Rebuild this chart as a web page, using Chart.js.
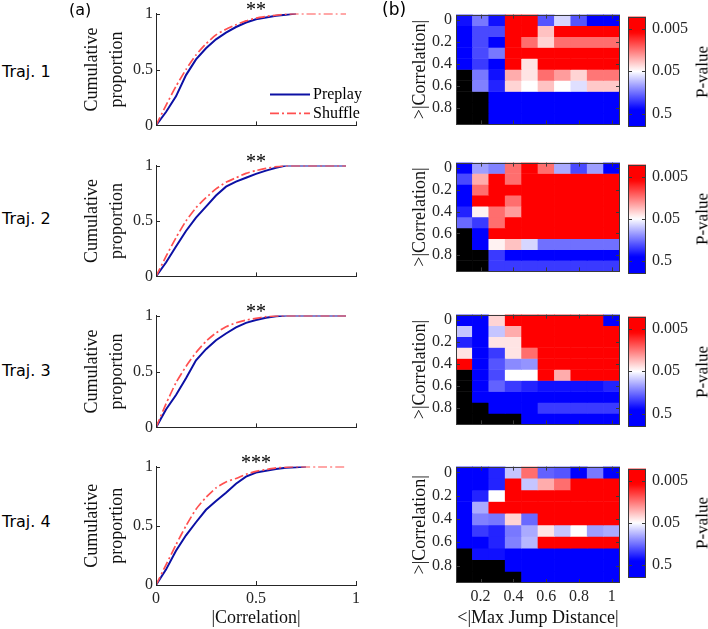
<!DOCTYPE html>
<html>
<head>
<meta charset="utf-8">
<script src="https://cdn.jsdelivr.net/npm/chart.js@4.4.1/dist/chart.umd.min.js"></script>
<style>
  body { margin:0; width:708px; height:629px; background:#fff; position:relative; overflow:hidden; }
  canvas { position:absolute; }
  .txt { position:absolute; white-space:nowrap; color:#000; line-height:1; }
  .sans { font-family:"DejaVu Sans", sans-serif; }
  .serif { font-family:"Liberation Serif", serif; }
</style>
</head>
<body>
<script>
// ---- donnees ----
const trajNames = ['Traj. 1', 'Traj. 2', 'Traj. 3', 'Traj. 4'];
const stars = ['**', '**', '**', '***'];

// |Correlation| (axe x des courbes cumulees)
const corrX = [0,0.05,0.1,0.15,0.2,0.25,0.3,0.35,0.4,0.45,0.5,0.55,0.6,0.65,0.7,0.75,0.8,0.85,0.9,0.95];

const preplay1 = [0,0.12,0.26,0.45,0.59,0.69,0.77,0.83,0.88,0.92,0.95,0.965,0.98,0.99,1,null,null,null,null,null];
const shuffle1 = [0,0.18,0.35,0.50,0.63,0.73,0.81,0.86,0.90,0.935,0.96,0.975,0.985,0.995,1,1,1,1,1,1];
const preplay2 = [0,0.125,0.27,0.41,0.53,0.63,0.73,0.81,0.855,0.89,0.925,0.955,0.98,1,1,1,1,1,1,1];
const shuffle2 = [0,0.18,0.35,0.50,0.62,0.71,0.79,0.85,0.89,0.93,0.955,0.975,0.99,1,1,1,1,1,1,1];
const preplay3 = [0,0.16,0.29,0.44,0.60,0.70,0.78,0.84,0.895,0.935,0.96,0.98,0.995,1,1,1,1,1,1,1];
const shuffle3 = [0,0.21,0.40,0.545,0.67,0.77,0.845,0.90,0.935,0.96,0.975,0.99,0.997,1,1,1,1,1,1,1];
const preplay4 = [0,0.13,0.29,0.42,0.53,0.635,0.71,0.78,0.855,0.915,0.95,0.965,0.98,0.99,0.995,1,null,null,null,null];
const shuffle4 = [0,0.17,0.34,0.50,0.64,0.74,0.82,0.87,0.90,0.935,0.96,0.975,0.99,0.995,1,1,1,1,1,1];

const cdfTicks = [0, 0.5, 1];

// heatmaps : lignes = >|Correlation|, colonnes = <|Max Jump Distance|
const corrLevels = [0,0.1,0.2,0.3,0.4,0.5,0.6,0.7,0.8,0.9];
const jumpLevels = [0.1,0.2,0.3,0.4,0.5,0.6,0.7,0.8,0.9,1];
const corrTicks = [0,0.2,0.4,0.6,0.8];
const cbTicks = [0.005, 0.05, 0.5];
const pMin = 0.0026, pMax = 1;

const R = 0.001, N = null;  // R : tres significatif, N : pas de donnees
const pval1 = [
  [0.35,0.15,0.35,R,R,0.2,0.07,0.2,0.5,0.6],
  [0.6,0.22,0.22,R,R,0.03,R,R,R,R],
  [0.6,0.22,0.4,R,0.015,0.035,0.015,0.015,0.015,0.015],
  [0.6,0.22,0.15,R,R,R,R,R,R,R],
  [0.4,0.25,0.4,R,0.04,R,R,R,R,R],
  [N,0.15,0.35,0.025,0.04,0.015,0.022,0.035,0.016,0.016],
  [N,0.14,0.3,0.035,0.05,0.03,0.05,0.065,0.032,0.032],
  [N,N,0.6,0.6,0.6,0.6,0.6,0.6,0.6,0.6],
  [N,N,0.6,0.6,0.6,0.6,0.6,0.6,0.6,0.6],
  [N,N,0.6,0.6,0.6,0.6,0.6,0.6,0.6,0.6]
];
const pval2 = [
  [0.4,0.11,0.14,0.015,R,0.015,0.1,0.22,0.11,0.7],
  [0.22,0.025,R,0.015,R,R,R,R,R,R],
  [0.5,0.015,R,R,R,R,R,R,R,R],
  [0.45,R,R,0.015,R,R,R,R,R,R],
  [0.3,0.045,0.015,0.022,R,R,R,R,R,R],
  [0.17,0.25,0.015,R,R,R,R,R,R,R],
  [N,0.4,R,R,R,R,R,R,R,R],
  [N,0.8,0.045,0.03,0.07,0.16,0.16,0.16,0.16,0.16],
  [N,N,0.25,0.4,0.4,0.4,0.4,0.4,0.4,0.4],
  [N,N,0.25,0.25,0.25,0.25,0.25,0.25,0.25,0.25]
];
const pval3 = [
  [0.6,0.6,0.035,R,R,R,R,R,R,0.6],
  [0.08,0.5,0.08,0.025,R,R,R,R,R,R],
  [0.3,0.7,0.04,0.04,R,R,R,R,R,R],
  [0.04,0.7,0.25,0.04,0.015,R,R,R,R,R],
  [R,0.6,0.2,0.13,0.12,R,R,R,R,R],
  [N,0.6,0.22,0.05,0.05,R,0.025,R,R,R],
  [N,0.6,0.18,0.25,0.3,0.35,0.35,0.35,0.35,0.3],
  [N,0.7,0.7,0.7,0.5,0.6,0.6,0.6,0.6,0.6],
  [N,N,0.7,0.7,0.4,0.25,0.25,0.25,0.25,0.25],
  [N,N,N,N,0.6,0.6,0.6,0.6,0.6,0.6]
];
const pval4 = [
  [0.7,0.45,0.3,0.08,0.015,0.18,0.2,0.4,0.15,0.7],
  [0.7,0.45,0.3,R,0.08,0.025,0.015,R,R,R],
  [0.7,0.3,0.05,R,R,R,R,R,R,R],
  [0.7,0.1,R,R,R,R,R,R,R,R],
  [0.7,0.14,0.15,0.035,0.17,R,R,R,R,R],
  [0.7,0.25,0.3,0.15,0.1,0.04,0.08,0.05,0.11,0.1],
  [0.7,0.4,0.3,0.14,0.09,R,R,R,R,R],
  [N,0.35,0.35,0.5,0.6,0.6,0.4,0.4,0.4,0.4],
  [N,N,N,0.7,0.7,0.6,0.4,0.4,0.4,0.4],
  [N,N,N,N,0.7,0.7,0.7,0.7,0.7,0.7]
];

const preplays = [preplay1, preplay2, preplay3, preplay4];
const shuffles = [shuffle1, shuffle2, shuffle3, shuffle4];
const pvals = [pval1, pval2, pval3, pval4];

// ---- mise en page ----
const cdfTop = [11, 163, 313, 464], cdfBot = [132, 283, 434, 585];
const hmTop = [11, 159, 311, 463], hmBot = [132, 279, 432, 583];
const trajY = [72, 219, 371, 522];
const starY = [6, 158, 308, 459];
const serif = 'Liberation Serif';
const grey = '#262626';

// rouge -> blanc (0.05) -> bleu, en echelle log
function pColor(p){
  if (p === null) return '#000';
  const t = Math.log10(p);
  const tr = Math.log10(0.006), tw = Math.log10(0.05), tb = Math.log10(0.4);
  let r, g, b;
  if (t <= tw) {
    const f = Math.min(1, (tw - t) / (tw - tr));
    r = 255; g = b = Math.round(255 * (1 - f));
  } else {
    const f = Math.min(1, (t - tw) / (tb - tw));
    r = g = Math.round(255 * (1 - f)); b = 255;
  }
  return 'rgb(' + r + ',' + g + ',' + b + ')';
}

// petites graduations vers l'interieur, facon matlab
const innerTicks = {
  id: 'innerTicks',
  afterDatasetsDraw(chart, args, opts){
    if (!opts.on) return;
    const ctx = chart.ctx, a = chart.chartArea, len = 4;
    ctx.save();
    ctx.strokeStyle = opts.color || grey;
    ctx.lineWidth = 1;
    ctx.beginPath();
    const xs = chart.scales.x, ys = chart.scales.y;
    if (opts.x) {
      xs.ticks.forEach((t, k) => {
        if (opts.xEvery && k % opts.xEvery !== opts.xEvery - 1) return;
        const px = Math.round(xs.getPixelForTick(k)) + 0.5;
        ctx.moveTo(px, a.bottom); ctx.lineTo(px, a.bottom - len);
        if (opts.box) { ctx.moveTo(px, a.top); ctx.lineTo(px, a.top + len); }
      });
    }
    if (opts.y) {
      ys.ticks.forEach((t, k) => {
        const py = Math.round(ys.getPixelForTick(k)) + 0.5;
        ctx.moveTo(a.left, py); ctx.lineTo(a.left + len, py);
        if (opts.box) { ctx.moveTo(a.right, py); ctx.lineTo(a.right - len, py); }
      });
    }
    ctx.stroke();
    if (opts.box) {
      ctx.strokeRect(Math.round(a.left) + 0.5, Math.round(a.top) + 0.5, Math.round(a.width) - 1, Math.round(a.height) - 1);
    }
    ctx.restore();
  }
};

// legende dans le coin bas droit du premier graphe
const innerLegend = {
  id: 'innerLegend',
  afterDraw(chart, args, opts){
    if (!opts.on) return;
    const ctx = chart.ctx, a = chart.chartArea;
    ctx.save();
    ctx.font = '16px "' + serif + '"';
    ctx.textBaseline = 'middle';
    ctx.fillStyle = '#000';
    chart.data.datasets.forEach((ds, k) => {
      const y = a.bottom - 31 + k * 19;
      ctx.beginPath();
      ctx.strokeStyle = ds.borderColor;
      ctx.lineWidth = ds.borderWidth;
      ctx.setLineDash(ds.borderDash || []);
      ctx.moveTo(a.right - 86, y); ctx.lineTo(a.right - 46, y);
      ctx.stroke();
      ctx.setLineDash([]);
      ctx.fillText(ds.label, a.right - 43, y);
    });
    ctx.restore();
  }
};

function addCanvas(left, top, w, h){
  const cv = document.createElement('canvas');
  cv.width = w; cv.height = h;
  cv.style.left = left + 'px'; cv.style.top = top + 'px';
  cv.style.width = w + 'px'; cv.style.height = h + 'px';
  document.body.appendChild(cv);
  return cv;
}
function addText(txt, cls, size, left, top, extra){
  const d = document.createElement('div');
  d.className = 'txt ' + cls;
  d.textContent = txt;
  d.style.fontSize = size + 'px';
  d.style.left = left + 'px'; d.style.top = top + 'px';
  if (extra) d.style.transform = extra;
  document.body.appendChild(d);
  return d;
}
const toPts = arr => corrX.map((x, k) => ({x: x, y: arr[k]})).filter(p => p.y !== null);

function cdfChart(i){
  const last = i === 3;
  const top = cdfTop[i] - 10;
  const h = last ? 629 - top : cdfBot[i] - cdfTop[i] + 16;
  const cv = addCanvas(76, top, 294, h);
  new Chart(cv, {
    type: 'line',
    data: { datasets: [
      { label: 'Preplay', data: toPts(preplays[i]), borderColor: '#0c10a4', borderWidth: 2,
        pointRadius: 0, tension: 0, order: 2 },
      { label: 'Shuffle', data: toPts(shuffles[i]), borderColor: '#ff5050', borderWidth: 1.7,
        borderDash: [9, 3, 2, 3], pointRadius: 0, tension: 0.2, order: 1 }
    ]},
    options: {
      animation: false, responsive: false, events: [],
      layout: { padding: { top: 10, right: 14, bottom: last ? 0 : 4, left: 0 } },
      plugins: { legend: { display: false }, tooltip: { enabled: false },
        innerTicks: { on: true, x: true, y: true }, innerLegend: { on: i === 0 } },
      scales: {
        x: { type: 'linear', min: 0, max: 1,
          grid: { display: false, drawTicks: false },
          border: { display: true, color: grey, width: 1 },
          afterBuildTicks: s => { s.ticks = cdfTicks.map(v => ({value: v})); },
          afterFit: s => { s.height = last ? 629 - cdfBot[i] : 2; },
          ticks: { display: last, padding: 4, color: grey, font: { family: serif, size: 16 },
            callback: v => String(v) },
          title: { display: last, text: '|Correlation|', color: '#111',
            font: { family: serif, size: 18 }, padding: { top: 0, bottom: 0 } } },
        y: { min: 0, max: 1,
          grid: { display: false, drawTicks: false },
          border: { display: true, color: grey, width: 1 },
          afterBuildTicks: s => { s.ticks = cdfTicks.map(v => ({value: v})); },
          afterFit: s => { s.width = 80; },
          ticks: { padding: 3, color: grey, font: { family: serif, size: 16 },
            callback: v => String(v) },
          title: { display: true, text: ['Cumulative', 'proportion'], color: '#111',
            font: { family: serif, size: 18, lineHeight: '25px' }, padding: { top: 3.5, bottom: 0 } } }
      }
    },
    plugins: [innerTicks, innerLegend]
  });
}

function heatChart(i){
  const last = i === 3;
  const top = hmTop[i] - 10;
  const h = last ? 629 - top : hmBot[i] - hmTop[i] + 16;
  const cv = addCanvas(380, top, 250, h);
  const pv = pvals[i];
  new Chart(cv, {
    type: 'bar',
    data: {
      labels: jumpLevels,
      datasets: corrLevels.map((c, r) => ({
        data: jumpLevels.map(() => [c - 0.05, c + 0.05]),
        backgroundColor: pv[r].map(pColor),
        borderWidth: 0, grouped: false,
        barPercentage: 1, categoryPercentage: 1
      }))
    },
    options: {
      animation: false, responsive: false, events: [],
      layout: { padding: { top: 10, right: 10, bottom: last ? 0 : 4, left: 0 } },
      plugins: { legend: { display: false }, tooltip: { enabled: false },
        innerTicks: { on: true, x: true, y: true, box: true, xEvery: 2, color: '#3a3a3a' } },
      scales: {
        x: { type: 'category',
          grid: { display: false, drawTicks: false }, border: { display: false },
          afterFit: s => { s.height = last ? 629 - hmBot[i] : 2; },
          ticks: { display: last, autoSkip: false, maxRotation: 0, padding: 4, color: grey,
            font: { family: serif, size: 16 },
            callback: (v, k) => (k % 2 === 1 ? String(jumpLevels[k]) : '') },
          title: { display: last, text: '<|Max Jump Distance|', color: '#111',
            font: { family: serif, size: 18 }, padding: { top: 0, bottom: 0 } } },
        y: { type: 'linear', min: -0.05, max: 0.95, reverse: true,
          grid: { display: false, drawTicks: false }, border: { display: false },
          afterBuildTicks: s => { s.ticks = corrTicks.map(v => ({value: v})); },
          afterFit: s => { s.width = 76; },
          ticks: { padding: 4, color: grey, font: { family: serif, size: 16 },
            callback: v => String(v) },
          title: { display: true, text: '>|Correlation|', color: '#111',
            font: { family: serif, size: 18 }, padding: { top: 29, bottom: 0 } } }
      }
    },
    plugins: [innerTicks]
  });
}

function colorBar(i){
  const top = hmTop[i] - 10;
  const cv = addCanvas(620, top, 88, hmBot[i] - hmTop[i] + 20);
  new Chart(cv, {
    type: 'bar',
    data: { labels: ['p'], datasets: [{
      data: [[pMin, pMax]],
      backgroundColor: (c) => {
        const ch = c.chart, a = ch.chartArea;
        if (!a) return '#fff';
        const ys = ch.scales.y;
        const g = ch.ctx.createLinearGradient(0, a.top, 0, a.bottom);
        const n = 40;
        for (let k = 0; k <= n; k++) {
          const p = Math.pow(10, Math.log10(pMin) + (Math.log10(pMax) - Math.log10(pMin)) * k / n);
          const f = (ys.getPixelForValue(p) - a.top) / (a.bottom - a.top);
          g.addColorStop(Math.min(1, Math.max(0, f)), pColor(p));
        }
        return g;
      },
      borderWidth: 0, barPercentage: 1, categoryPercentage: 1
    }]},
    options: {
      animation: false, responsive: false, events: [],
      layout: { padding: { top: 10, right: 0, bottom: 10, left: 8 } },
      plugins: { legend: { display: false }, tooltip: { enabled: false },
        innerTicks: { on: true, x: false, y: true, box: true, color: '#3a3a3a' } },
      scales: {
        x: { display: false },
        y: { type: 'logarithmic', position: 'right', min: pMin, max: pMax, reverse: true,
          grid: { display: false, drawTicks: false }, border: { display: false },
          afterBuildTicks: s => { s.ticks = cbTicks.map(v => ({value: v})); },
          afterFit: s => { s.width = 62; },
          ticks: { padding: 6, color: grey, font: { family: serif, size: 16 },
            callback: v => String(v) } }
      }
    },
    plugins: [innerTicks]
  });
}

for (let i = 0; i < 4; i++) {
  cdfChart(i);
  heatChart(i);
  colorBar(i);
  addText(trajNames[i], 'sans', 16, 2, trajY[i] - 8);
  addText(stars[i], 'serif', 20, 256, starY[i] - 7, 'translateX(-50%)');
  addText('P-value', 'serif', 17, 702, (hmTop[i] + hmBot[i]) / 2, 'translate(-50%,-50%) rotate(-90deg)');
}
addText('(a)', 'sans', 16, 69, 2);
addText('(b)', 'sans', 17, 382, 1);
</script>
</body>
</html>
